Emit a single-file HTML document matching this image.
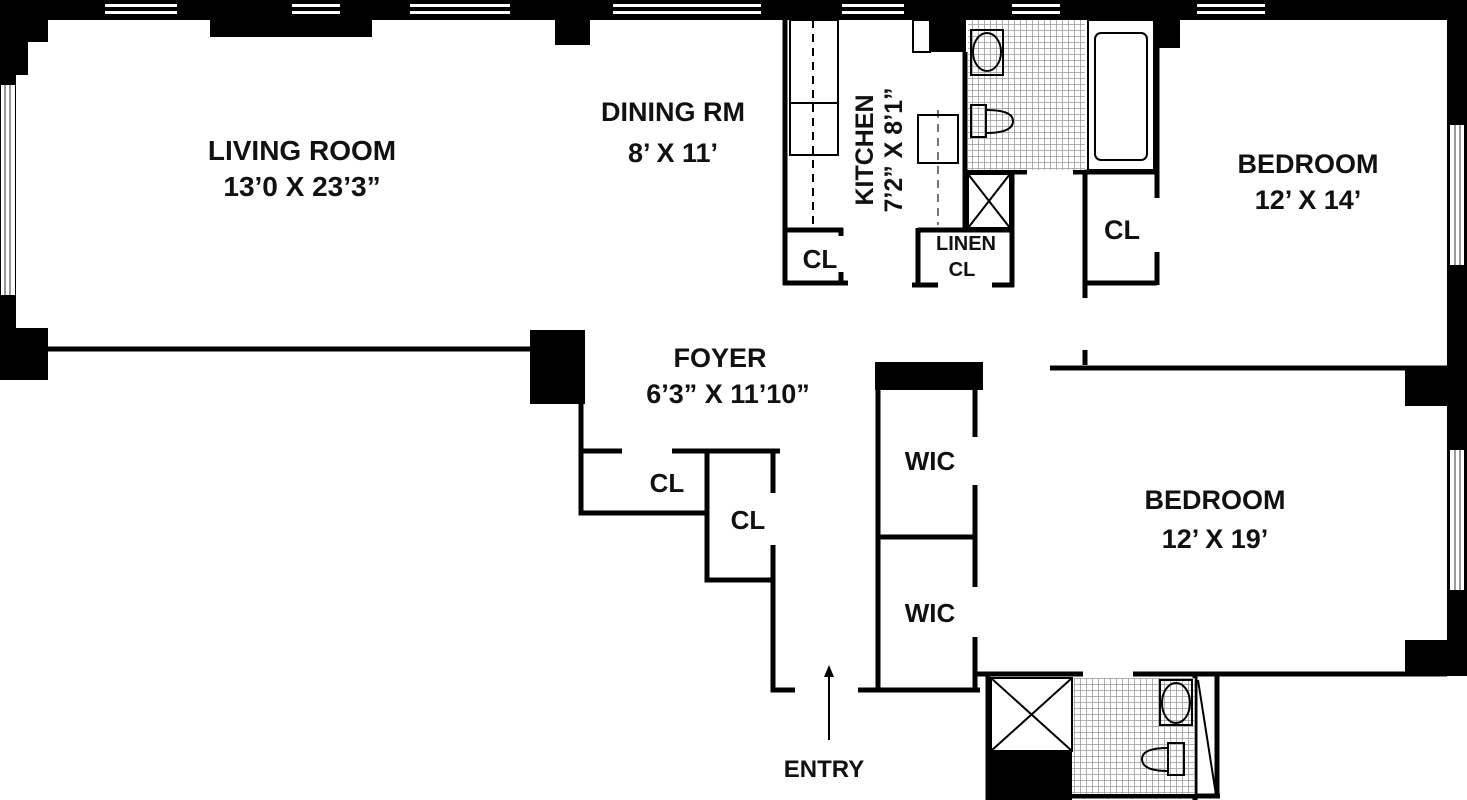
<!DOCTYPE html>
<html><head><meta charset="utf-8"><style>
html,body{margin:0;padding:0;background:#fff;}
svg{display:block;}
text{font-family:"Liberation Sans","DejaVu Sans",sans-serif;font-weight:bold;fill:#111;}
</style></head><body>
<svg width="1467" height="800" viewBox="0 0 1467 800" xmlns="http://www.w3.org/2000/svg">
<defs>
<pattern id="tile" width="6" height="6" patternUnits="userSpaceOnUse">
<rect width="6" height="6" fill="#fff"/>
<path d="M0 0H6M0 0V6" stroke="#999" stroke-width="1.6"/>
</pattern>
</defs>
<g fill="#000">
<rect x="0" y="0" width="1467" height="20"/>
<g fill="#fff">
<rect x="105" y="4" width="72" height="3"/><rect x="105" y="11" width="72" height="3"/>
<rect x="292" y="4" width="48" height="3"/><rect x="292" y="11" width="48" height="3"/>
<rect x="410" y="4" width="100" height="3"/><rect x="410" y="11" width="100" height="3"/>
<rect x="613" y="4" width="148" height="3"/><rect x="613" y="11" width="148" height="3"/>
<rect x="842" y="4" width="62" height="3"/><rect x="842" y="11" width="62" height="3"/>
<rect x="1012" y="4" width="48" height="3"/><rect x="1012" y="11" width="48" height="3"/>
<rect x="1197" y="4" width="68" height="3"/><rect x="1197" y="11" width="68" height="3"/>
</g>
<rect x="0" y="0" width="48" height="42"/>
<rect x="0" y="0" width="28" height="75"/>
<rect x="210" y="18" width="162" height="19"/>
<rect x="555" y="18" width="35" height="27"/>
<rect x="930" y="18" width="36" height="34"/>
<rect x="1150" y="18" width="30" height="30"/>
<rect x="0" y="0" width="16" height="380"/>
<rect x="0" y="328" width="48" height="52"/>
<rect x="1" y="85" width="14" height="210" fill="#fff"/>
<rect x="4" y="85" width="2" height="210" fill="#999"/>
<rect x="9" y="85" width="2" height="210" fill="#999"/>
<rect x="1447" y="0" width="20" height="672"/>
<rect x="1405" y="370" width="62" height="36"/>
<rect x="1405" y="640" width="62" height="36"/>
<rect x="1450" y="125" width="14" height="140" fill="#fff"/>
<rect x="1450" y="450" width="14" height="140" fill="#fff"/>
<rect x="1454" y="125" width="2" height="140" fill="#999"/>
<rect x="1459" y="125" width="2" height="140" fill="#999"/>
<rect x="1454" y="450" width="2" height="140" fill="#999"/>
<rect x="1459" y="450" width="2" height="140" fill="#999"/>
<rect x="530" y="330" width="55" height="74"/>
<rect x="875" y="362" width="108" height="28"/>
</g>
<g stroke="#000" stroke-width="5" fill="none">
<line x1="46" y1="349" x2="532" y2="349"/>
<path d="M581 402V513H707"/>
<line x1="581" y1="451" x2="622" y2="451"/>
<line x1="672" y1="451" x2="780" y2="451"/>
<path d="M707 451V580H773"/>
<line x1="773" y1="451" x2="773" y2="493"/>
<path d="M773 545V690H795"/>
<line x1="878" y1="390" x2="878" y2="690"/>
<line x1="858" y1="690" x2="980" y2="690"/>
<line x1="878" y1="537" x2="975" y2="537"/>
<line x1="975" y1="390" x2="975" y2="437"/>
<line x1="975" y1="485" x2="975" y2="587"/>
<line x1="975" y1="637" x2="975" y2="690"/>
<line x1="1050" y1="368" x2="1447" y2="368"/>
<line x1="1085" y1="350" x2="1085" y2="365"/>
<line x1="975" y1="674" x2="1083" y2="674"/>
<line x1="1133" y1="674" x2="1447" y2="674"/>
<line x1="785" y1="20" x2="785" y2="285"/>
<line x1="783" y1="283" x2="848" y2="283"/>
<line x1="785" y1="230" x2="843" y2="230"/>
<line x1="841" y1="228" x2="841" y2="236"/>
<line x1="841" y1="272" x2="841" y2="285"/>
<line x1="965" y1="52" x2="965" y2="230"/>
<line x1="912" y1="285" x2="938" y2="285"/>
<line x1="918" y1="228" x2="918" y2="287"/>
<line x1="918" y1="230" x2="1012" y2="230"/>
<line x1="1012" y1="170" x2="1012" y2="287"/>
<line x1="992" y1="285" x2="1014" y2="285"/>
<line x1="965" y1="172" x2="1027" y2="172"/>
<line x1="1073" y1="172" x2="1157" y2="172"/>
<line x1="1085" y1="172" x2="1085" y2="298"/>
<line x1="1085" y1="283" x2="1157" y2="283"/>
<line x1="1157" y1="20" x2="1157" y2="198"/>
<line x1="1157" y1="252" x2="1157" y2="285"/>
<path d="M988 674V800"/>
<line x1="1195" y1="676" x2="1195" y2="800"/>
<line x1="1217" y1="676" x2="1217" y2="798"/>
<line x1="986" y1="796" x2="1220" y2="796"/>
</g>
<g stroke="#000" stroke-width="2" fill="none">
<rect x="790" y="20" width="48" height="135"/>
<line x1="790" y1="103" x2="838" y2="103"/>
<line x1="813" y1="20" x2="813" y2="225" stroke-dasharray="8,6"/>
<line x1="938" y1="110" x2="938" y2="225" stroke-dasharray="8,6" stroke="#777"/>
<rect x="918" y="115" width="40" height="48"/>
<rect x="913" y="20" width="17" height="32"/>
<rect x="968" y="20" width="117" height="150" fill="url(#tile)" stroke="none"/>
<rect x="1088" y="20" width="66" height="150" fill="#fff"/>
<rect x="1095" y="33" width="52" height="127" rx="6"/>
<rect x="971" y="30" width="32" height="45"/>
<ellipse cx="987" cy="52" rx="14" ry="19"/>
<rect x="971" y="105" width="15" height="32"/>
<path d="M986 110 Q1013 110 1013 121 Q1013 133 986 133"/>
<rect x="968" y="174" width="42" height="54"/>
<line x1="968" y1="174" x2="1010" y2="228"/>
<line x1="1010" y1="174" x2="968" y2="228"/>
<rect x="1072" y="678" width="123" height="116" fill="url(#tile)" stroke="none"/>
<rect x="991" y="678" width="81" height="73"/>
<line x1="991" y1="678" x2="1072" y2="751"/>
<line x1="1072" y1="678" x2="991" y2="751"/>
<rect x="1160" y="680" width="32" height="45"/>
<ellipse cx="1176" cy="703" rx="14" ry="20"/>
<rect x="1168" y="743" width="16" height="32"/>
<path d="M1168 748 Q1142 748 1142 759 Q1142 771 1168 771"/>
<line x1="1198" y1="680" x2="1216" y2="795"/>
<line x1="829" y1="670" x2="829" y2="740"/>
</g>
<rect x="988" y="751" width="84" height="49" fill="#000"/>
<path d="M829 665 L824 677 L834 677 Z" fill="#000"/>
<g font-size="27" text-anchor="middle">
<text x="302" y="160" font-size="28">LIVING ROOM</text>
<text x="302" y="196" font-size="28">13’0 X 23’3”</text>
<text x="673" y="121">DINING RM</text>
<text x="673" y="162">8’ X 11’</text>
<text x="1308" y="173">BEDROOM</text>
<text x="1308" y="209">12’ X 14’</text>
<text x="1122" y="239">CL</text>
<text x="820" y="268" font-size="26">CL</text>
<text x="720" y="367">FOYER</text>
<text x="728" y="403">6’3” X 11’10”</text>
<text x="667" y="492" font-size="26">CL</text>
<text x="748" y="529" font-size="26">CL</text>
<text x="930" y="470" font-size="26">WIC</text>
<text x="930" y="622" font-size="26">WIC</text>
<text x="1215" y="509">BEDROOM</text>
<text x="1215" y="548">12’ X 19’</text>
<text x="824" y="777" font-size="24">ENTRY</text>
<text x="966" y="250" font-size="20">LINEN</text>
<text x="962" y="276" font-size="20">CL</text>
</g>
<g font-size="25" text-anchor="middle">
<text transform="translate(873,150) rotate(-90)">KITCHEN</text>
<text transform="translate(902,150) rotate(-90)">7’2” X 8’1”</text>
</g>
</svg>
</body></html>
